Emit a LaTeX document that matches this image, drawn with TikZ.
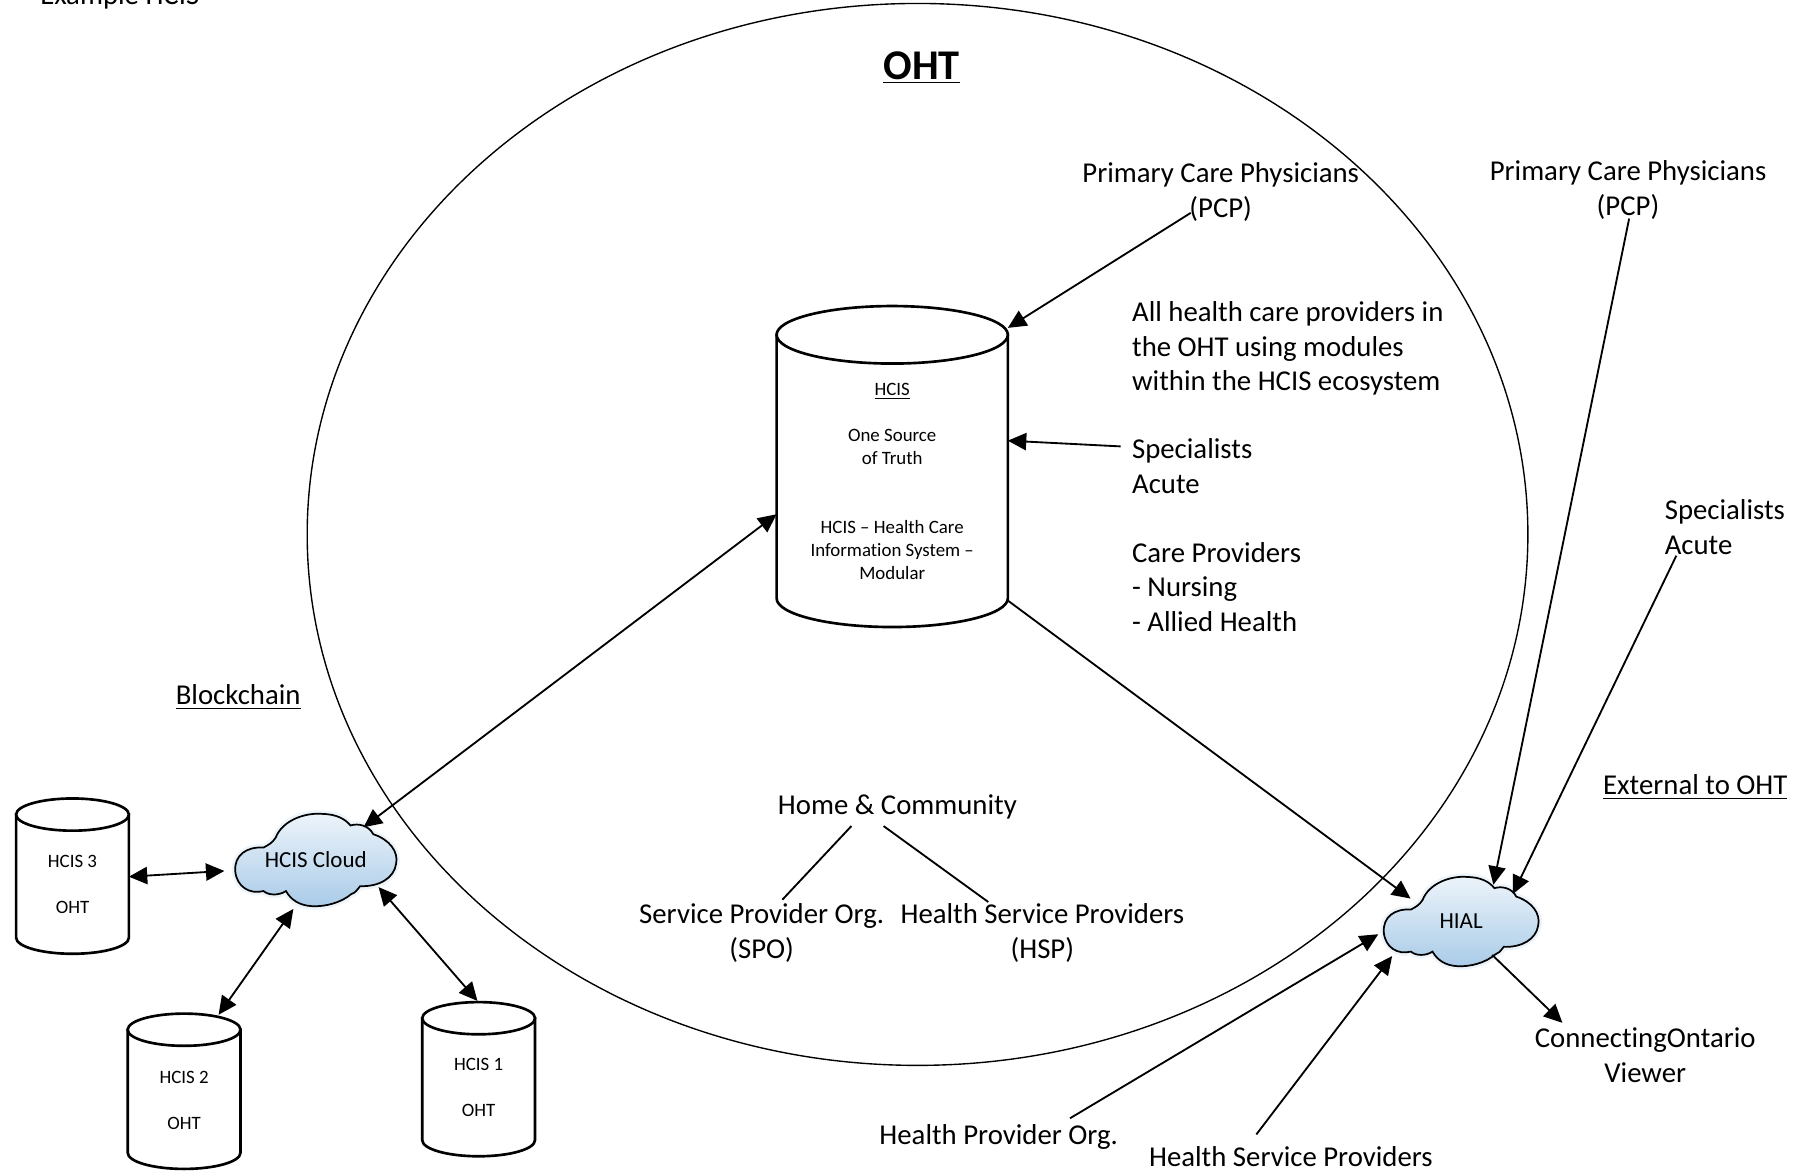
\documentclass[tikz,border=0pt]{standalone}
\usepackage{fontspec}
\setmainfont{Carlito}[RawFeature={-liga;-clig}]
\usetikzlibrary{arrows.meta,shapes.geometric}
\definecolor{cloudtop}{HTML}{EDF4FA}
\definecolor{cloudbot}{HTML}{A9CBE8}
\definecolor{cloudglow}{HTML}{9DC3E6}
\tikzset{
  bigtext/.style={font=\fontsize{12.5pt}{15pt}\selectfont,align=center,inner sep=0pt,outer sep=0pt},
  lefttext/.style={font=\fontsize{12.5pt}{15pt}\selectfont,align=left,inner sep=0pt,outer sep=0pt,anchor=west},
  smalltext/.style={font=\fontsize{8.2pt}{10pt}\selectfont,align=center,inner sep=0pt,outer sep=0pt},
  cloudtext/.style={font=\fontsize{10pt}{12pt}\selectfont,align=center,inner sep=0pt,outer sep=0pt},
  cylbox/.style={rectangle,inner sep=0pt,outer sep=0pt},
  cylline/.style={line width=1.15pt,draw=black,fill=white},
  link/.style={line width=.8pt,draw=black},
  oneway/.style={link,-{Triangle[length=8pt,width=7.5pt]}},
  twoway/.style={link,{Triangle[length=8pt,width=7.5pt]}-{Triangle[length=8pt,width=7.5pt]}},
}
\newcommand{\cylnode}[6]{%
  \node[cylbox,minimum width=#4*.5pt,minimum height=#5*.5pt] (#1) at (#2,#3) {};
  \draw[cylline] ([yshift=-#6*.5pt]#1.north west) -- ([yshift=#6*.5pt]#1.south west)
     arc[start angle=180,end angle=360,x radius=#4*.25pt,y radius=#6*.5pt]
     -- ([yshift=-#6*.5pt]#1.north east) -- cycle;
  \draw[cylline] ([yshift=-#6*.5pt]#1.north) ellipse [x radius=#4*.25pt,y radius=#6*.5pt];
}
\newcommand{\cloudpath}{(248,395) .. controls (245,350) and (280,325) .. (330,328)
  .. controls (345,320) and (355,315) .. (365,300)
  .. controls (385,250) and (450,228) .. (500,232)
  .. controls (540,233) and (565,245) .. (582,265)
  .. controls (605,258) and (635,265) .. (648,290)
  .. controls (695,305) and (722,340) .. (714,375)
  .. controls (708,415) and (665,440) .. (610,438)
  .. controls (600,450) and (595,458) .. (585,460)
  .. controls (555,485) and (510,497) .. (470,495)
  .. controls (435,493) and (410,478) .. (395,452)
  .. controls (375,465) and (345,465) .. (330,452)
  .. controls (290,462) and (252,440) .. (248,395) -- cycle}
\newcommand{\cloudnode}[6]{%
  \begin{scope}[shift={(#2,#3)},x=#4*.5pt,y=-#5*.5pt]
  \begin{scope}[shift={(-481.5,-363.5)}]
    \draw[cloudglow,opacity=.18,line width=3pt] \cloudpath;
    \draw[line width=.75pt,draw=black,top color=cloudtop,bottom color=cloudbot] \cloudpath;
  \end{scope}
  \end{scope}
  \node[cloudtext] (#1) at (#2,#3) {#6};
}
\begin{document}
\begin{tikzpicture}[x=.5pt,y=-.5pt]
\useasboundingbox (0,0) rectangle (1568,1017);
% large OHT ellipse
\node[ellipse,draw=black,line width=.6pt,inner sep=0pt,outer sep=0pt,minimum width=530.5pt,minimum height=461.5pt] (oht) at (797.5,464.5) {};
\node[font=\fontsize{18.4pt}{22pt}\selectfont\bfseries,inner sep=0pt] (ohttitle) at (801,59) {\underline{OHT}};
\node[lefttext] (example) at (35,-3) {Example HCIS};
% cylinders
\cylnode{hcis}{775.5}{405.5}{201}{279}{25}
\node[smalltext] (hcistext) at (775.5,418.5) {\underline{HCIS}\\[10pt]One Source\\of Truth\\[20pt]HCIS – Health Care\\Information System –\\Modular};
\cylnode{hcisthree}{63}{761.5}{98}{135}{14}
\node[smalltext] (hcisthreetext) at (63,768.5) {HCIS 3\\[10pt]OHT};
\cylnode{hcistwo}{160}{948.5}{98}{135}{14}
\node[smalltext] (hcistwotext) at (160,956.5) {HCIS 2\\[10pt]OHT};
\cylnode{hcisone}{416}{938}{98}{134}{14}
\node[smalltext] (hcisonetext) at (416,945.5) {HCIS 1\\[10pt]OHT};
% clouds
\cloudnode{hcloud}{274.5}{747.5}{.3}{.305}{HCIS Cloud}
\cloudnode{hial}{1270}{801}{.288}{.295}{HIAL}
% texts
\node[bigtext] (pcpin) at (1061,167) {Primary Care Physicians\\(PCP)};
\node[bigtext] (pcpout) at (1415,165) {Primary Care Physicians\\(PCP)};
\node[lefttext] (allhcp) at (984,303) {All health care providers in\\the OHT using modules\\within the HCIS ecosystem};
\node[lefttext] (specin) at (984,405) {Specialists\\Acute};
\node[lefttext] (careprov) at (984,510) {Care Providers\\- Nursing\\- Allied Health};
\node[lefttext] (specout) at (1447,458) {Specialists\\Acute};
\node[bigtext] (blockchain) at (207,606) {\underline{Blockchain}};
\node[bigtext] (external) at (1473.5,684) {\underline{External to OHT}};
\node[bigtext] (home) at (780,701) {Home \& Community};
\node[bigtext] (spo) at (662,811) {Service Provider Org.\\(SPO)};
\node[bigtext] (hsp) at (906,811) {Health Service Providers\\(HSP)};
\node[bigtext] (conn) at (1430,917) {ConnectingOntario\\Viewer};
\node[bigtext] (hpo) at (868,988) {Health Provider Org.};
\node[bigtext] (hsptwo) at (1122,1005) {Health Service Providers};
% connectors
\draw[oneway] ([shift={(-26,18)}]pcpin.center) -- ([shift={(100.5,-120.5)}]hcis.center);
\draw[oneway] ([shift={(-10,-17)}]specin.west) -- ([shift={(100.5,-22.5)}]hcis.center);
\draw[twoway] ([shift={(-100.5,41.5)}]hcis.center) -- ([shift={(41.5,-28.5)}]hcloud.center);
\draw[oneway] ([shift={(100.5,116.5)}]hcis.center) -- ([shift={(-44,-20)}]hial.center);
\draw[link] ([shift={(-40,17)}]home.center) -- ([shift={(18,-29)}]spo.center);
\draw[link] ([shift={(-12,17)}]home.center) -- ([shift={(-47,-27)}]hsp.center);
\draw[oneway] ([shift={(1,25)}]pcpout.center) -- ([shift={(28,-32)}]hial.center);
\draw[oneway] ([shift={(10,25)}]specout.west) -- ([shift={(45,-24)}]hial.center);
\draw[oneway] ([shift={(62,-16)}]hpo.center) -- ([shift={(-72,11)}]hial.center);
\draw[oneway] ([shift={(-30,-19)}]hsptwo.center) -- ([shift={(-60,30)}]hial.center);
\draw[oneway] ([shift={(27,29)}]hial.center) -- ([shift={(-72,-28)}]conn.center);
\draw[twoway] ([shift={(49,.5)}]hcisthree.center) -- ([shift={(-79.5,9.5)}]hcloud.center);
\draw[twoway] ([shift={(30,-66.5)}]hcistwo.center) -- ([shift={(-19.5,42.5)}]hcloud.center);
\draw[twoway] ([shift={(-1,-68)}]hcisone.center) -- ([shift={(54.5,23.5)}]hcloud.center);
\end{tikzpicture}
\end{document}
